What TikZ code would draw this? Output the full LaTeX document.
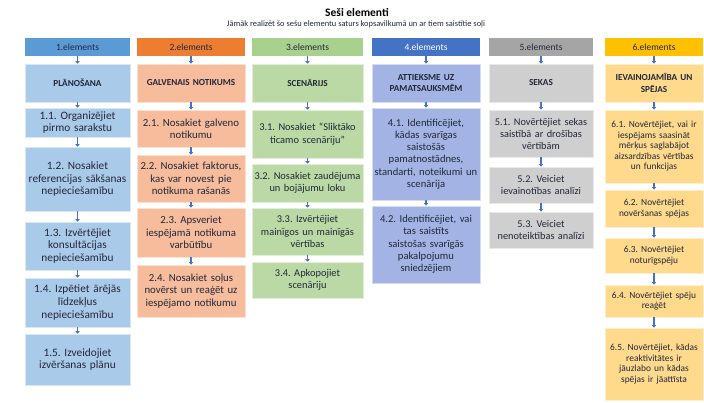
\documentclass[tikz,border=0pt]{standalone}
\usepackage{fontspec}
\setmainfont{Carlito}
\usetikzlibrary{arrows.meta}

\newlength{\du}
\setlength{\du}{1pt}

\definecolor{headone}{HTML}{5B9BD5}
\definecolor{boxone}{HTML}{AACAE9}
\definecolor{headtwo}{HTML}{ED7D31}
\definecolor{boxtwo}{HTML}{F6BC9C}
\definecolor{headthree}{HTML}{A9D18E}
\definecolor{boxthree}{HTML}{BBD9A5}
\definecolor{headfour}{HTML}{4472C4}
\definecolor{boxfour}{HTML}{A3B3E3}
\definecolor{headfive}{HTML}{A5A5A5}
\definecolor{boxfive}{HTML}{CFCFCF}
\definecolor{headsix}{HTML}{FFC000}
\definecolor{boxsix}{HTML}{FFDA8C}
\definecolor{arrowblue}{HTML}{4472C4}
\definecolor{textdark}{HTML}{22283A}

\tikzset{
  elhead/.style={fill=#1, inner sep=1pt, align=center, minimum height=18\du,
    font=\fontsize{9.5}{10.5}\selectfont, text=textdark},
  elbox/.style={fill=#1, draw=white!55!#1, line width=0.6pt, inner sep=1pt,
    align=center, text=textdark},
  eltitle/.style={elbox=#1, font=\bfseries\fontsize{9.2}{11.5}\selectfont, minimum height=38\du},
  colone/.style={text width=103\du, font=\fontsize{11.3}{12.8}\selectfont},
  coltwo/.style={text width=106\du, font=\fontsize{10.8}{12.3}\selectfont},
  colthree/.style={text width=109\du, font=\fontsize{10.4}{12.3}\selectfont},
  colfour/.style={text width=106\du, font=\fontsize{10.6}{12.3}\selectfont},
  colfive/.style={text width=102\du, font=\fontsize{10.3}{12}\selectfont},
  colsix/.style={text width=96\du, font=\fontsize{9.4}{10.5}\selectfont},
  elarrow/.style={draw=arrowblue, line width=1.4pt, -{Triangle[length=2.6pt,width=4.2pt]}},
}

\begin{document}
\frenchspacing
\begin{tikzpicture}
\pgftransformxscale{1.000000}
\pgftransformyscale{-1.000000}
\useasboundingbox (0\du,0\du) rectangle (704\du,402\du);

% title
\node[font=\bfseries\fontsize{11.5}{13}\selectfont] (title) at (357\du,12\du){Seši elementi};
\node[font=\fontsize{8.4}{9}\selectfont, text=textdark] (subtitle) at (356\du,24\du){Jāmāk realizēt šo sešu elementu saturs kopsavilkumā un ar tiem saistītie soļi};

% 1. elements
\node[colone, elhead=headone] (h1) at (77.5\du,47\du){1.elements};
\node[colone, eltitle=boxone] (p1) at (77.5\du,83\du){PLĀNOŠANA};
\node[elbox=boxone, colone, minimum height=29\du] (s11) at (77.5\du,122.5\du){1.1. Organizējiet\\pirmo sarakstu};
\node[elbox=boxone, colone, minimum height=64\du] (s12) at (77.5\du,179\du){1.2. Nosakiet\\referencijas sākšanas\\nepieciešamību};
\node[elbox=boxone, colone, minimum height=48\du] (s13) at (77.5\du,246\du){1.3. Izvērtējiet\\konsultācijas\\nepieciešamību};
\node[elbox=boxone, colone, minimum height=49\du] (s14) at (77.5\du,302.5\du){1.4. Izpētiet ārējās\\līdzekļus\\nepieciešamību};
\node[elbox=boxone, colone, minimum height=51\du] (s15) at (77.5\du,359.5\du){1.5. Izveidojiet\\izvēršanas plānu};

% 2. elements
\node[coltwo, elhead=headtwo] (h2) at (191\du,47\du){2.elements};
\node[coltwo, eltitle=boxtwo] (p2) at (191\du,83\du){GALVENAIS NOTIKUMS};
\node[elbox=boxtwo, coltwo, minimum height=37\du] (s21) at (191\du,128.5\du){2.1. Nosakiet galveno\\notikumu};
\node[elbox=boxtwo, coltwo, minimum height=47\du] (s22) at (191\du,178.5\du){2.2. Nosakiet faktorus,\\kas var novest pie\\notikuma rašanās};
\node[elbox=boxtwo, coltwo, minimum height=49\du] (s23) at (191\du,232.5\du){2.3. Apsveriet\\iespējamā notikuma\\varbūtību};
\node[elbox=boxtwo, coltwo, minimum height=52\du] (s24) at (191\du,291\du){2.4. Nosakiet soļus\\novērst un reaģēt uz\\iespējamo notikumu};

% 3. elements
\node[colthree, elhead=headthree] (h3) at (307.5\du,47\du){3.elements};
\node[colthree, eltitle=boxthree] (p3) at (307.5\du,83\du){SCENĀRIJS};
\node[elbox=boxthree, colthree, minimum height=48\du] (s31) at (307.5\du,134\du){3.1. Nosakiet ``Sliktāko\\ticamo scenāriju''};
\node[elbox=boxthree, colthree, minimum height=38\du] (s32) at (307.5\du,183\du){3.2. Nosakiet zaudējuma\\un bojājumu loku};
\node[elbox=boxthree, colthree, minimum height=47\du] (s33) at (307.5\du,231.5\du){3.3. Izvērtējiet\\mainīgos un mainīgās\\vērtības};
\node[elbox=boxthree, colthree, minimum height=36\du] (s34) at (307.5\du,280\du){3.4. Apkopojiet\\scenāriju};

% 4. elements
\node[colfour, elhead=headfour, text=white] (h4) at (426\du,47\du){4.elements};
\node[colfour, eltitle=boxfour] (p4) at (426\du,83\du){ATTIEKSME UZ\\PAMATSAUKSMĒM};
\node[elbox=boxfour, colfour, minimum height=92\du] (s41) at (426\du,154\du){4.1. Identificējiet,\\kādas svarīgas\\saistošās\\pamatnostādnes,\\standarti, noteikumi un\\scenārija};
\node[elbox=boxfour, colfour, minimum height=77\du] (s42) at (426\du,244.5\du){4.2. Identificējiet, vai\\tas saistīts\\saistošas svarīgās\\pakalpojumu\\sniedzējiem};

% 5. elements
\node[colfive, elhead=headfive] (h5) at (541\du,47\du){5.elements};
\node[colfive, eltitle=boxfive] (p5) at (541\du,83\du){SEKAS};
\node[elbox=boxfive, colfive, minimum height=47\du] (s51) at (541\du,133.5\du){5.1. Novērtējiet sekas\\saistībā ar drošības\\vērtībām};
\node[elbox=boxfive, colfive, minimum height=36\du] (s52) at (541\du,185\du){5.2. Veiciet\\ievainotības analīzi};
\node[elbox=boxfive, colfive, minimum height=36\du] (s53) at (541\du,230\du){5.3. Veiciet\\nenoteiktības analīzi};

% 6. elements
\node[colsix, elhead=headsix] (h6) at (654\du,47\du){6.elements};
\node[colsix, eltitle=boxsix] (p6) at (654\du,83\du){IEVAINOJAMĪBA UN\\SPĒJAS};
\node[elbox=boxsix, colsix, minimum height=73\du] (s61) at (654\du,146.5\du){6.1. Novērtējiet, vai ir\\iespējams saasināt\\mērķus saglabājot\\aizsardzības vērtības\\un funkcijas};
\node[elbox=boxsix, colsix, minimum height=37\du] (s62) at (654\du,208.5\du){6.2. Novērtējiet\\novēršanas spējas};
\node[elbox=boxsix, colsix, minimum height=35\du] (s63) at (654\du,255.5\du){6.3. Novērtējiet\\noturīgspēju};
\node[elbox=boxsix, colsix, minimum height=32\du] (s64) at (654\du,301\du){6.4. Novērtējiet spēju\\reaģēt};
\node[elbox=boxsix, colsix, minimum height=72\du] (s65) at (654\du,364\du){6.5. Novērtējiet, kādas\\reaktivitātes ir\\jāuzlabo un kādas\\spējas ir jāattīsta};

% arrows
\foreach \a/\b in {h1/p1,p1/s11,s11/s12,s12/s13,s13/s14,s14/s15,
                   h2/p2,p2/s21,s21/s22,s22/s23,s23/s24,
                   h3/p3,p3/s31,s31/s32,s32/s33,s33/s34,
                   h4/p4,p4/s41,s41/s42,
                   h5/p5,p5/s51,s51/s52,s52/s53,
                   h6/p6,p6/s61,s61/s62,s62/s63,s63/s64,s64/s65}
  \draw[elarrow] (\a) -- (\b);
\end{tikzpicture}
\end{document}
